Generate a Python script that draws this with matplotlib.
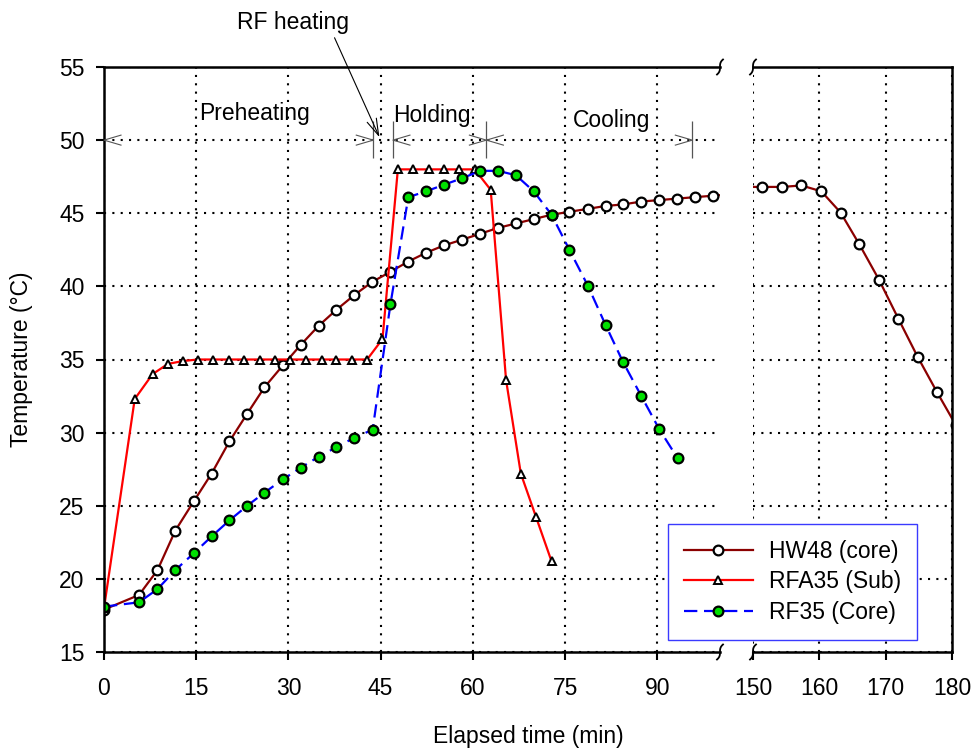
#-------------------------------------------------------------------------------------
# Temperature history of HW48 / RFA35 / RF35 with a broken time axis.
#-------------------------------------------------------------------------------------

import numpy as np
import matplotlib
matplotlib.use('Agg')
import matplotlib.pyplot as plt
import matplotlib.transforms as mtransforms

plt.rcParams['font.family'] = ['Liberation Sans', 'DejaVu Sans']
plt.rcParams['font.size'] = 16.5

# Data --------------------------------------------------------------------------
t_hw48 = [0, 5.7, 8.7, 11.6, 14.6, 17.5, 20.4, 23.3, 26.1, 29.1, 32.0, 34.9, 37.8,
          40.7, 43.6, 46.6, 49.5, 52.4, 55.3, 58.3, 61.2, 64.1, 67.0, 69.9, 72.8,
          75.7, 78.7, 81.6, 84.4, 87.4, 90.3, 93.2, 96.1, 99.1, 102.0,
          148.5, 151.4, 154.4, 157.3, 160.3, 163.2, 166.0, 169.0, 171.9, 174.8,
          177.7, 180.6]
T_hw48 = [17.9, 18.9, 20.6, 23.3, 25.3, 27.2, 29.4, 31.3, 33.1, 34.6, 36.0, 37.3, 38.4,
          39.4, 40.3, 41.0, 41.7, 42.3, 42.8, 43.2, 43.6, 44.0, 44.3, 44.6, 44.9,
          45.1, 45.3, 45.5, 45.6, 45.8, 45.9, 46.0, 46.1, 46.2, 46.3,
          46.8, 46.8, 46.8, 46.9, 46.5, 45.05, 42.9, 40.45, 37.8, 35.2,
          32.8, 30.5]

t_rfa35 = [0, 5.0, 7.9, 10.4, 12.9, 15.3, 17.8, 20.3, 22.8, 25.3, 27.8, 30.3, 32.8,
           35.4, 37.8, 40.3, 42.8, 45.3, 47.8, 50.3, 52.8, 55.3, 57.8, 60.3, 62.9,
           65.4, 67.8, 70.3, 72.8]
T_rfa35 = [18.0, 32.3, 34.0, 34.7, 34.9, 35.0, 35.0, 35.0, 35.0, 35.0, 35.0, 35.0, 35.0,
           35.0, 35.0, 35.0, 35.0, 36.4, 48.0, 48.0, 48.0, 48.0, 48.0, 48.0, 46.6,
           33.6, 27.2, 24.2, 21.2]

t_rf35 = [0, 5.7, 8.7, 11.6, 14.6, 17.5, 20.4, 23.3, 26.1, 29.1, 32.0, 34.9, 37.8,
          40.7, 43.7, 46.6, 49.5, 52.4, 55.3, 58.3, 61.2, 64.1, 67.0, 69.9, 72.8,
          75.7, 78.7, 81.6, 84.4, 87.4, 90.3, 93.3]
T_rf35 = [18.1, 18.4, 19.3, 20.6, 21.75, 22.9, 24.0, 25.0, 25.9, 26.8, 27.6, 28.35, 29.0,
          29.65, 30.2, 38.8, 46.1, 46.5, 46.95, 47.4, 47.9, 47.9, 47.6, 46.5, 44.9,
          42.5, 40.05, 37.35, 34.85, 32.5, 30.25, 28.25]

labels = ['HW48 (core)', 'RFA35 (Sub)', 'RF35 (Core)']

# Process phases marked along T = 50 degC
phase_names = ['Preheating', 'Holding', 'Cooling']
phase_start = [0, 47.0, 62.2]
phase_end = [43.8, 62.2, 95.7]
phase_label_x = [24.5, 53.3, 82.5]
phase_label_y = [51.35, 51.25, 50.9]
phase_marks = [43.8, 47.0, 62.2, 95.7]

left_ticks = [0, 15, 30, 45, 60, 75, 90]
right_ticks = [150, 160, 170, 180]
y_ticks = [15, 20, 25, 30, 35, 40, 45, 50, 55]


# Break marks on the axis ---------------------------------------------------------
def draw_break(fig, ax, xa, ya):
    t = np.linspace(-1, 1, 40)
    xs = 0.03 * np.sign(t) * np.abs(t) ** 3
    ys = 0.075 * t
    trans = fig.dpi_scale_trans + mtransforms.ScaledTranslation(xa, ya, ax.transAxes)
    ax.plot(xs, ys, color='black', lw=1.3, transform=trans, clip_on=False, zorder=6)


# Open arrow head only (the shaft is the dotted grid line) -------------------------
def arrow_head(fig, ax, x, y, direction):
    # head size in inches
    hl, hw = 0.17, 0.05
    trans = fig.dpi_scale_trans + mtransforms.ScaledTranslation(x, y, ax.transData)
    ax.plot([-direction * hl, 0, -direction * hl], [hw, 0, -hw], color='#555555',
            lw=0.8, transform=trans, clip_on=False, zorder=5)


# Plot ----------------------------------------------------------------------------
fig = plt.figure(figsize=(9.74, 7.49), dpi=100)
W, H = 974.0, 749.0
ax1 = fig.add_axes([104 / W, 1 - 652 / H, (720 - 104) / W, 585 / H])
ax2 = fig.add_axes([753 / W, 1 - 652 / H, (952 - 753) / W, 585 / H])

styles = [
    dict(color='#8b0000', lw=1.6, marker='o', ms=7, mfc='white', mec='black', mew=1.6),
    dict(color='#ff0000', lw=1.6, marker='^', ms=6, mfc='white', mec='black', mew=1.4),
    dict(color='#0000ff', lw=1.6, ls=(0, (6, 3)), marker='o', ms=7, mfc='#00e000',
         mec='black', mew=1.6),
]
series = [(t_hw48, T_hw48), (t_rfa35, T_rfa35), (t_rf35, T_rf35)]

handles = []
for ax in (ax1, ax2):
    for (t, T), st, lab in zip(series, styles, labels):
        ln, = ax.plot(t, T, label=lab, **st)
        if ax is ax1:
            handles.append(ln)

for ax in (ax1, ax2):
    ax.set_ylim(15, 55)
    ax.set_yticks(y_ticks)
    ax.grid(True, color='black', linestyle=(0, (1, 3)), lw=1.5)
    for sp in ax.spines.values():
        sp.set_linewidth(1.8)
    ax.tick_params(direction='out', length=6, width=1.5)
    ax.tick_params(axis='x', pad=12)
    ax.tick_params(axis='y', pad=8)

ax1.set_xlim(0, 100.2)
ax1.set_xticks(left_ticks)
ax1.spines['right'].set_visible(False)

ax2.set_xlim(150, 180)
ax2.set_xticks(right_ticks)
ax2.spines['left'].set_visible(False)
ax2.tick_params(axis='y', left=False, labelleft=False)

# break marks
draw_break(fig, ax1, 1, 0)
draw_break(fig, ax1, 1, 1)
draw_break(fig, ax2, 0, 0)
draw_break(fig, ax2, 0, 1)

# phase arrows
for s, e in zip(phase_start, phase_end):
    arrow_head(fig, ax1, s, 50, -1)
    arrow_head(fig, ax1, e, 50, 1)
ax1.vlines(phase_marks, 48.8, 51.3, color='#555555', lw=0.9)
for name, x, y in zip(phase_names, phase_label_x, phase_label_y):
    ax1.text(x, y, name, ha='center', va='baseline')

# RF heating callout
ax1.annotate('', xy=(44.8, 50.2), xytext=(37.5, 57.0), annotation_clip=False,
             arrowprops=dict(arrowstyle='->,head_length=0.6,head_width=0.18',
                             color='black', lw=0.8, shrinkA=0, shrinkB=0,
                             mutation_scale=20))
ax1.text(30.7, 58.06, 'RF heating', ha='center', va='center', clip_on=False)

# axis labels
fig.text(528 / W, 0.0075, 'Elapsed time (min)', ha='center', va='baseline')
fig.text(22 / W, 1 - 359.5 / H, 'Temperature (°C)', ha='center', va='center',
         rotation=90)

# legend
leg = fig.legend(handles, labels, loc='lower left',
                 bbox_to_anchor=(668 / W, 1 - 640 / H), borderaxespad=0,
                 fancybox=False, framealpha=1, edgecolor='#3a3aff',
                 handlelength=3.0, handletextpad=0.7, borderpad=0.7,
                 labelspacing=0.33, numpoints=1)
leg.get_frame().set_linewidth(1.0)

plt.savefig('out.png', dpi=100)
plt.close()
